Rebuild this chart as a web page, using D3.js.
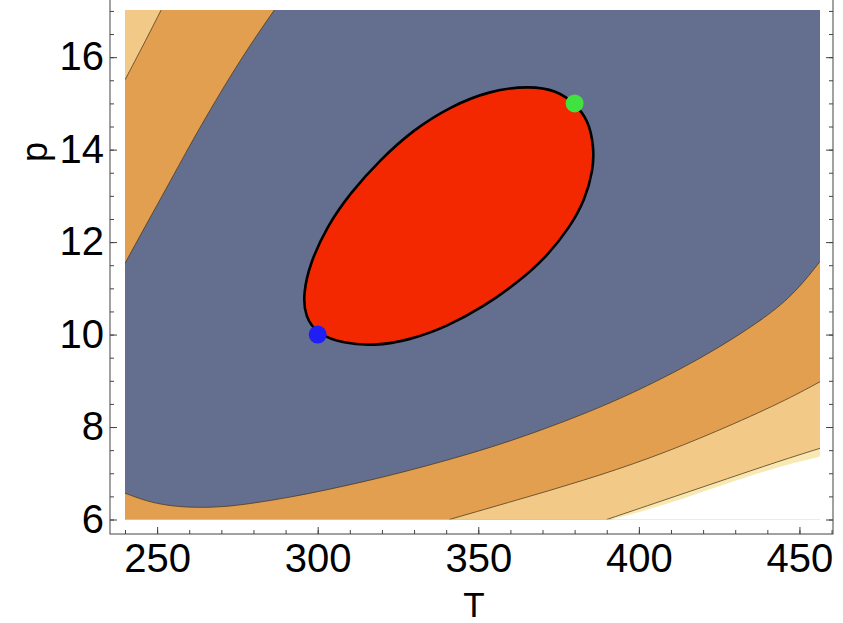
<!DOCTYPE html>
<html>
<head>
<meta charset="utf-8">
<script src="https://cdn.jsdelivr.net/npm/d3@7"></script>
<style>
  html, body { margin: 0; padding: 0; background: #fff; }
  svg { display: block; }
  text { font-family: "Liberation Sans", Arial, Helvetica, sans-serif; fill: #000; }
</style>
</head>
<body>
<svg id="chart" width="843" height="623"></svg>
<script>
// ---------------- data ----------------
const T_DOMAIN = [240, 456.4];
const P_DOMAIN = [6, 17.02];
const T_TICKS = [250, 300, 350, 400, 450];
const T_MINOR = d3.range(240, 461, 10);
const P_TICKS = [6, 8, 10, 12, 14, 16];
const P_MINOR = d3.range(6, 17.01, 0.5);

// red ellipse contour (T, p)
const ellipseContour = [
  [366.1, 15.38], [374.4, 15.28], [380.0, 15.00], [384.3, 14.64], [386.0, 14.06],
  [385.8, 13.56], [383.2, 12.91], [378.6, 12.33], [371.3, 11.68], [362.0, 11.11],
  [351.6, 10.60], [340.2, 10.17], [328.7, 9.88], [317.3, 9.75], [308.0, 9.81],
  [300.0, 10.00], [296.0, 10.39], [295.5, 10.89], [297.6, 11.54], [302.8, 12.33],
  [310.1, 13.06], [319.4, 13.78], [329.8, 14.43], [341.2, 14.93], [353.7, 15.28]
];
// blue / orange boundary, upper-left branch
const contourB_upper = [
  [240.0, 11.54], [246.2, 12.33], [253.1, 13.19], [259.9, 14.06], [266.5, 14.86],
  [273.6, 15.68], [280.0, 16.37], [286.7, 17.04]
];
// blue / orange boundary, lower branch
const contourB_lower = [
  [240.0, 6.57], [245.7, 6.42], [250.9, 6.33], [258.2, 6.26], [269.6, 6.26],
  [279.9, 6.35], [291.4, 6.48], [302.8, 6.64], [313.2, 6.80], [323.5, 6.97],
  [334.9, 7.18], [344.3, 7.36], [359.9, 7.69], [375.4, 8.08], [391.0, 8.51],
  [406.6, 9.02], [422.2, 9.60], [437.7, 10.28], [448.1, 10.85], [456.4, 11.58]
];
// orange / light orange boundary
const contourC_upper = [[240.0, 15.51], [245.7, 16.26], [251.4, 17.04]];
const contourC_lower = [
  [341.0, 6.00], [362.0, 6.42], [382.7, 6.84], [403.5, 7.32], [424.2, 7.90],
  [445.0, 8.55], [456.4, 8.98]
];
// light orange / pale boundary
const contourD = [[390.0, 6.00], [406.6, 6.39], [425.3, 6.83], [444.0, 7.27], [456.4, 7.54]];
// edge of the plotted region (white beyond)
const regionEdge = [[391.6, 6.00], [410.0, 6.35], [425.3, 6.73], [444.0, 7.16], [456.4, 7.36]];

const points = [
  { T: 300, p: 10, color: "#1f1ff5" },
  { T: 380, p: 15, color: "#3fe23f" }
];

const COLORS = {
  inner: "#f42800",
  blue: "#646e8e",
  orange: "#e29f4f",
  light: "#f3c987",
  pale: "#f8e8b2",
  line: "rgba(70,55,30,0.75)"
};

// ---------------- layout ----------------
const svg = d3.select("#chart");
const x = d3.scaleLinear().domain(T_DOMAIN).range([125, 820]);
const y = d3.scaleLinear().domain(P_DOMAIN).range([519.5, 10]);
const frame = { left: 110, right: 833, top: -10, bottom: 534 };

svg.append("defs").append("clipPath").attr("id", "plotclip")
  .append("rect")
  .attr("x", x(T_DOMAIN[0])).attr("y", y(P_DOMAIN[1]))
  .attr("width", x(T_DOMAIN[1]) - x(T_DOMAIN[0]))
  .attr("height", y(P_DOMAIN[0]) - y(P_DOMAIN[1]));

const plot = svg.append("g").attr("clip-path", "url(#plotclip)");

const curveLine = d3.line().x(d => x(d[0])).y(d => y(d[1])).curve(d3.curveBasis);
const closedLine = d3.line().x(d => x(d[0])).y(d => y(d[1])).curve(d3.curveBasisClosed);

function region(curvePts, corners) {
  let path = curveLine(curvePts);
  corners.forEach(c => { path += "L" + x(c[0]) + "," + y(c[1]); });
  return path + "Z";
}

const T0 = T_DOMAIN[0], T1 = T_DOMAIN[1], P0 = P_DOMAIN[0], P1 = P_DOMAIN[1] + 0.2;

// background band
plot.append("rect")
  .attr("x", x(T0)).attr("y", y(P1))
  .attr("width", x(T1) - x(T0)).attr("height", y(P0) - y(P1))
  .attr("fill", COLORS.blue);

// top-left bands
plot.append("path").attr("d", region(contourB_upper, [[T0, P1]])).attr("fill", COLORS.orange);
plot.append("path").attr("d", region(contourC_upper, [[T0, P1]])).attr("fill", COLORS.light);

// bottom bands
plot.append("path").attr("d", region(contourB_lower, [[T1 + 1, 11.58], [T1 + 1, P0 - 1], [T0, P0 - 1]])).attr("fill", COLORS.orange);
plot.append("path").attr("d", region(contourC_lower, [[T1 + 1, 8.98], [T1 + 1, P0 - 1], [341, P0 - 1]])).attr("fill", COLORS.light);
plot.append("path").attr("d", region(contourD, [[T1 + 1, 7.54], [T1 + 1, P0 - 1], [390, P0 - 1]])).attr("fill", COLORS.pale);
plot.append("path").attr("d", region(regionEdge, [[T1 + 1, 7.36], [T1 + 1, P0 - 1], [391.6, P0 - 1]])).attr("fill", "#ffffff");

// contour lines
[contourB_upper, contourB_lower, contourC_upper, contourC_lower, contourD].forEach(c => {
  plot.append("path").attr("d", curveLine(c))
    .attr("fill", "none").attr("stroke", COLORS.line).attr("stroke-width", 1);
});

// inner region
plot.append("path").attr("d", closedLine(ellipseContour))
  .attr("fill", COLORS.inner).attr("stroke", "#000").attr("stroke-width", 2.6);

// points
svg.append("g").selectAll("circle").data(points).join("circle")
  .attr("cx", d => x(d.T)).attr("cy", d => y(d.p)).attr("r", 9)
  .attr("fill", d => d.color);

// ---------------- frame & axes ----------------
const axisColor = "#444";
svg.append("rect")
  .attr("x", frame.left).attr("y", frame.top)
  .attr("width", frame.right - frame.left).attr("height", frame.bottom - frame.top)
  .attr("fill", "none").attr("stroke", axisColor).attr("stroke-width", 1);

function styleAxis(g) {
  g.select(".domain").remove();
  g.selectAll("line").attr("stroke", axisColor);
  g.selectAll("text").style("font-size", "40px").style("font-family", "'Liberation Sans', Arial, sans-serif").attr("fill", "#000");
}

// bottom
svg.append("g").attr("transform", `translate(0,${frame.bottom})`)
  .call(d3.axisBottom(x).tickValues(T_MINOR).tickSize(-4).tickFormat(""))
  .call(styleAxis);
svg.append("g").attr("transform", `translate(0,${frame.bottom})`)
  .call(d3.axisBottom(x).tickValues(T_TICKS).tickSize(-7).tickPadding(10).tickFormat(d3.format("d")))
  .call(styleAxis);
// left
svg.append("g").attr("transform", `translate(${frame.left},0)`)
  .call(d3.axisLeft(y).tickValues(P_MINOR).tickSize(-4).tickFormat(""))
  .call(styleAxis);
svg.append("g").attr("transform", `translate(${frame.left},0)`)
  .call(d3.axisLeft(y).tickValues(P_TICKS).tickSize(-7).tickPadding(6).tickFormat(d3.format("d")))
  .call(styleAxis);
// right
svg.append("g").attr("transform", `translate(${frame.right},0)`)
  .call(d3.axisRight(y).tickValues(P_MINOR).tickSize(-4).tickFormat(""))
  .call(styleAxis);
svg.append("g").attr("transform", `translate(${frame.right},0)`)
  .call(d3.axisRight(y).tickValues(P_TICKS).tickSize(-7).tickFormat(""))
  .call(styleAxis);

// axis titles
svg.append("text").attr("x", 474).attr("y", 617)
  .attr("text-anchor", "middle").style("font-size", "35px").text("T");
svg.append("text")
  .attr("transform", "translate(47,152) rotate(-90)")
  .attr("text-anchor", "middle").style("font-size", "36px").text("p");
</script>
</body>
</html>
